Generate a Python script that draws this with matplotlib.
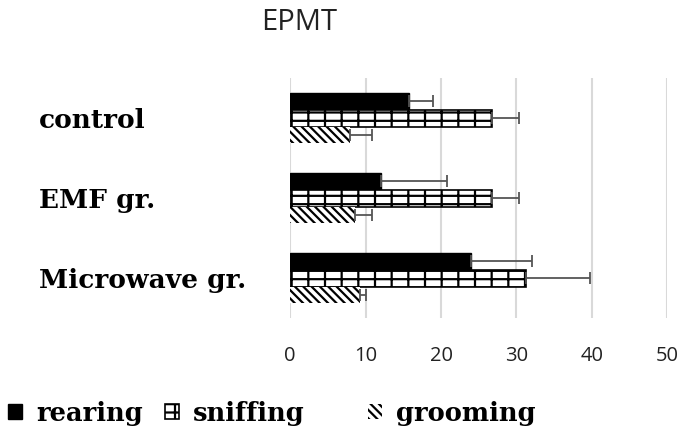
import numpy as np
import matplotlib
matplotlib.use("Agg")
import matplotlib.pyplot as plt

groups = ["control", "EMF gr.", "Microwave gr."]
behaviours = ["rearing", "sniffing", "grooming"]
rearing = [15.7, 12.1, 24.0]
rearing_err = [3.3, 8.7, 8.1]
sniffing = [26.7, 26.7, 31.3]
sniffing_err = [3.7, 3.7, 8.5]
grooming = [8.0, 8.6, 9.3]
grooming_err = [2.9, 2.3, 0.8]
x_ticks = [0, 10, 20, 30, 40, 50]

plt.rcParams["hatch.linewidth"] = 1.6

fig = plt.figure(figsize=(6.81, 4.34), dpi=100)
ax = fig.add_axes([0.426, 0.267, 0.554, 0.553])

y = np.arange(len(groups))
h = 0.21
err_style = dict(ecolor="#555555", elinewidth=1.3, capsize=4, capthick=1.3)

b1 = ax.barh(y - h, rearing, height=h, color="black", edgecolor="black",
             xerr=[[0] * 3, rearing_err], error_kw=err_style)
b2 = ax.barh(y, sniffing, height=h, color="white", edgecolor="black",
             hatch="--|", linewidth=1.2, xerr=[[0] * 3, sniffing_err],
             error_kw=err_style)
b3 = ax.barh(y + h, grooming, height=h, color="white", edgecolor="black",
             linewidth=0, hatch="\\\\\\\\", xerr=[[0] * 3, grooming_err],
             error_kw=err_style)

ax.set_xlim(0, 50)
ax.set_ylim(2.5, -0.5)
ax.set_xticks(x_ticks)
ax.set_xticklabels([str(t) for t in x_ticks], fontsize=14.5, color="#222222",
                   family="Open Sans")
ax.set_yticks(y)
ax.set_yticklabels(groups, fontsize=19, fontweight="bold",
                   family="DejaVu Serif", ha="left")
ax.tick_params(axis="y", length=0, pad=181)
ax.tick_params(axis="x", length=0, pad=20)
ax.grid(axis="x", color="#d9d9d9", linewidth=1.5)
ax.set_axisbelow(True)
for s in ax.spines.values():
    s.set_visible(False)

fig.text(299 / 681, 1 - 23 / 434, "EPMT", ha="center", va="center",
         fontsize=21, family="Open Sans", color="#222222")

# one legend per entry so the uneven gaps of the original can be kept
leg_font = {"family": "DejaVu Serif", "weight": "bold", "size": 18.5}
for bar, name, x0 in zip([b1, b2, b3], behaviours, [8, 165, 368]):
    leg = fig.legend([bar], [name], loc="center left",
                     bbox_to_anchor=(x0 / 681, 0.048), frameon=False,
                     borderpad=0, borderaxespad=0, handlelength=0.55,
                     handleheight=0.55, handletextpad=0.55, prop=leg_font)

fig.savefig("out.png", dpi=100)
